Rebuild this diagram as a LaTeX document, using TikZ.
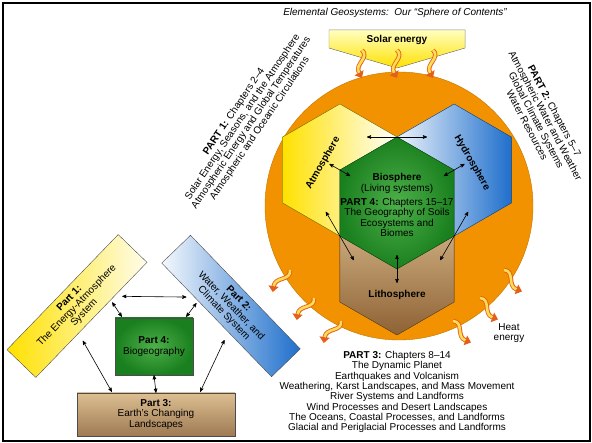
\documentclass[tikz,border=0pt]{standalone}
\usepackage{fontspec}
\setmainfont{Liberation Sans}
\usetikzlibrary{calc}
\usetikzlibrary{arrows}
\usetikzlibrary{arrows.meta}

\definecolor{sunorange}{HTML}{F39200}
\definecolor{atmyellow}{HTML}{FFE100}
\definecolor{hydblue}{HTML}{1F6FCC}
\definecolor{biogreen}{HTML}{1A7F1E}
\definecolor{biolight}{HTML}{4DB04A}
\definecolor{littan}{HTML}{DCBF92}
\definecolor{litbrown}{HTML}{8E6234}
\definecolor{wavey}{HTML}{FFDC55}
\definecolor{waveo}{HTML}{E4601A}

\tikzset{
 dbl/.style={<->, >=stealth', semithick},
 heat/.style={line width=4.4pt, draw=waveo, -{Triangle[width=10pt,length=6pt]},
   postaction={draw=wavey, line width=2.6pt, -, shorten >=6pt}},
 atmfill/.style={draw=atmyellow!55!black, left color=atmyellow, right color=white},
 hydfill/.style={draw=hydblue!70!black, left color=hydblue!8, right color=hydblue},
 litfill/.style={draw=litbrown!70!black, top color=littan, bottom color=litbrown},
 biofill/.style={draw=biogreen!60!black, inner color=biolight, outer color=biogreen},
 partbox/.style={draw=black!70, align=center, inner sep=1pt},
}

\begin{document}
\begin{tikzpicture}[x=1pt, y=-1pt, font=\fontsize{10}{10.3}\selectfont]
\useasboundingbox (0,0) rectangle (592,443);
\draw[line width=1.8pt] (3,3) rectangle (590,441);

\node (title) at (395,13) {\itshape Elemental Geosystems:\ \ Our “Sphere of Contents”};

\filldraw[draw=gray, top color=yellow!25, bottom color=atmyellow] (329,30) -- (465,30) -- (465,48) -- (397,68) -- (329,48) -- cycle;
\node (solar) at (397,40) {\textbf{Solar energy}};

\filldraw[fill=sunorange, draw=sunorange!80!black] (399,206) circle (134pt);

\foreach \x/\y/\r in {362/50/0, 397/50/0, 433/50/0, 290/270/-38, 314/298/-38, 341/321/-38, 504/270/40, 480/298/40, 453/321/40}
 \draw[heat, shift={(\x,\y)}, rotate=\r] (0,0) .. controls (8,8) and (-8,14) .. (0,28);

\coordinate (bio) at (397,203);
\coordinate (atm) at ($(bio)+(210:66)$);
\coordinate (hyd) at ($(bio)+(330:66)$);
\coordinate (lit) at ($(bio)+(90:66)$);
\foreach \c/\s in {atm/atmfill, hyd/hydfill, lit/litfill, bio/biofill}
 \filldraw[\s] (\c) ++(-90:66) -- ++(30:66) -- ++(90:66) -- ++(150:66) -- ++(210:66) -- ++(270:66) -- cycle;

\foreach \v/\d/\l in {270/0/30, 210/30/12, 330/150/12, 150/60/28, 30/120/28, 90/90/14}
 \draw[dbl] ($(bio)+(\v:66)+(\d+180:\l)$) -- ($(bio)+(\v:66)+(\d:\l)$);

\node[rotate=60] (atmlabel) at (323,163) {\textbf{Atmosphere}};
\node[rotate=-60] (hydlabel) at (472,163) {\textbf{Hydrosphere}};
\node[align=center] (biolabel) at ($(bio)+(0,2)$) {\textbf{Biosphere}\\(Living systems)\\[4pt]\textbf{PART 4:} Chapters 15–17\\The Geography of Soils\\Ecosystems and\\Biomes};
\node (litlabel) at (397,295) {\textbf{Lithosphere}};
\node[align=center] (heatlabel) at (509,333) {Heat\\energy};

\node[rotate=56, align=center] (part1text) at (247,120) {\textbf{PART 1:} Chapters 2–4\\Solar Energy, Seasons, and the Atmosphere\\Atmospheric Energy and Global Temperatures\\Atmospheric and Oceanic Circulations};
\node[rotate=-62, align=center] (part2text) at (541,118) {\textbf{PART 2:} Chapters 5–7\\Atmospheric Water and Weather\\Global Climate Systems\\Water Resources};
\node[align=center] (part3text) at (397,392) {\textbf{PART 3:} Chapters 8–14\\The Dynamic Planet\\Earthquakes and Volcanism\\Weathering, Karst Landscapes, and Mass Movement\\River Systems and Landforms\\Wind Processes and Desert Landscapes\\The Oceans, Coastal Processes, and Landforms\\Glacial and Periglacial Processes and Landforms};

\node[partbox, rotate=46, minimum width=160, minimum height=40, left color=atmyellow, right color=atmyellow!8] (p1) at (77,306) {\textbf{Part 1:}\\The Energy-Atmosphere\\System};
\node[partbox, rotate=-46, minimum width=158, minimum height=40, left color=hydblue!5, right color=hydblue] (p2) at (231,306) {\textbf{Part 2:}\\Water, Weather, and\\Climate System};
\node[partbox, minimum width=78, minimum height=57, inner color=biolight, outer color=biogreen] (p4) at (154,346.5) {\textbf{Part 4:}\\Biogeography};
\node[partbox, minimum width=158, minimum height=43, top color=littan, bottom color=litbrown!85] (p3) at (156,414.5) {\textbf{Part 3:}\\Earth's Changing\\Landscapes};

\draw[dbl] ([shift={(-25,34)}]p1.south east) -- ([shift={(25,34)}]p2.south west);
\draw[dbl] ([shift={(-35,40)}]p1.south east) -- ([shift={(7,-1)}]p4.north west);
\draw[dbl] ([shift={(35,40)}]p2.south west) -- ([shift={(-7,-1)}]p4.north east);
\draw[dbl] ([shift={(47,-37)}]p1.south west) -- ([shift={(35,-1)}]p3.north west);
\draw[dbl] ([shift={(-47,-37)}]p2.south east) -- ([shift={(-35,-1)}]p3.north east);
\draw[dbl] (p4.south) -- (p3.north);
\end{tikzpicture}
\end{document}
